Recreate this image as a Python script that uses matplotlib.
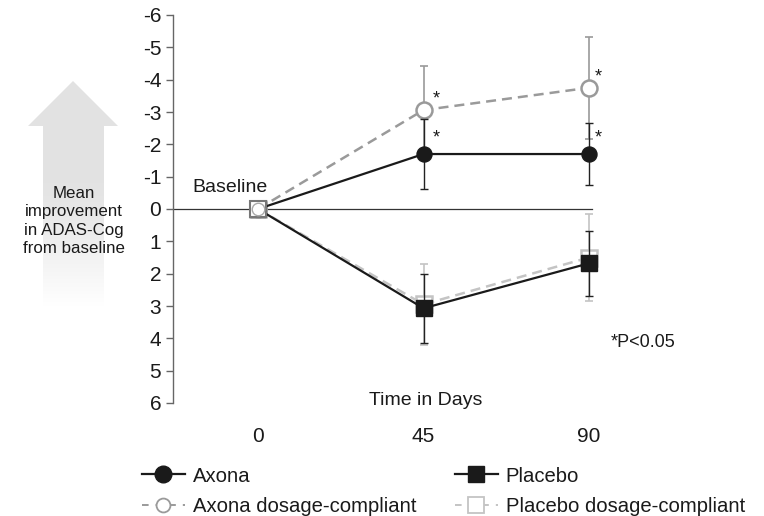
import numpy as np
import matplotlib
matplotlib.use("Agg")
import matplotlib.pyplot as plt
from matplotlib.path import Path
from matplotlib.patches import PathPatch
from matplotlib.lines import Line2D

plt.rcParams['font.family'] = ['Liberation Sans', 'DejaVu Sans']

days = [0, 45, 90]
day_labels = ["0", "45", "90"]
axona = [0.0, -1.70, -1.70]
axona_err = [0.0, 1.08, 0.95]
axona_dc = [0.0, -3.06, -3.75]
axona_dc_err = [0.0, 1.37, 1.58]
placebo = [0.0, 3.07, 1.68]
placebo_err = [0.0, 1.07, 1.00]
placebo_dc = [0.0, 2.95, 1.50]
placebo_dc_err = [0.0, 1.25, 1.33]
yticks = [-6, -5, -4, -3, -2, -1, 0, 1, 2, 3, 4, 5, 6]

W, H = 764, 516
fig = plt.figure(figsize=(W / 100, H / 100), dpi=100)

# pixel geometry
x0px, x90px = 258, 589
ppd = (x90px - x0px) / 90.0
left_px, right_px = 173, 740
top_px, bot_px = 15, 403
ax = fig.add_axes([left_px / W, 1 - bot_px / H, (right_px - left_px) / W, (bot_px - top_px) / H])
ax.set_xlim((left_px - x0px) / ppd, (right_px - x0px) / ppd)
ax.set_ylim(6, -6)
ax.patch.set_alpha(0)

for s in ['top', 'right', 'bottom']:
    ax.spines[s].set_visible(False)
ax.spines['left'].set_color('#666666')
ax.spines['left'].set_linewidth(1.0)
ax.set_yticks(yticks)
ax.set_yticklabels([str(t) for t in yticks])
ax.tick_params(axis='y', length=5, width=1.0, color='#666666', pad=3.5, labelsize=15, labelcolor='#1a1a1a')
ax.set_xticks(days)
ax.set_xticklabels(day_labels)
ax.tick_params(axis='x', length=0, pad=17, labelsize=15, labelcolor='#1a1a1a')

# zero line
ax.plot([(left_px - x0px) / ppd, (592 - x0px) / ppd], [0, 0], color='#333333', lw=0.9, zorder=1)

gray = '#9a9a9a'
lgray = '#c4c4c4'
cap = 3
dash = (0, (4, 2.4))

# placebo dosage-compliant
ax.errorbar(days[1:], placebo_dc[1:], yerr=placebo_dc_err[1:], fmt='none', ecolor=lgray, elinewidth=1.2, capsize=cap, capthick=1.2, zorder=2)
ax.plot(days, placebo_dc, color=lgray, lw=1.8, ls=dash, marker='s', ms=11.5, mfc='white', mec=lgray, mew=1.8, zorder=3)
# placebo
ax.errorbar(days[1:], placebo[1:], yerr=placebo_err[1:], fmt='none', ecolor='#222222', elinewidth=1.0, capsize=cap, capthick=1.0, zorder=4)
ax.plot(days, placebo, color='#1a1a1a', lw=1.6, marker='s', ms=11.5, mfc='#1a1a1a', mec='#1a1a1a', zorder=5)
# axona dosage-compliant
ax.errorbar(days[1:], axona_dc[1:], yerr=axona_dc_err[1:], fmt='none', ecolor=gray, elinewidth=1.2, capsize=cap, capthick=1.2, zorder=6)
ax.plot(days, axona_dc, color=gray, lw=1.8, ls=dash, marker='o', ms=11.5, mfc='white', mec=gray, mew=1.8, zorder=7)
# axona
ax.errorbar(days[1:], axona[1:], yerr=axona_err[1:], fmt='none', ecolor='#222222', elinewidth=1.0, capsize=cap, capthick=1.0, zorder=8)
ax.plot(days, axona, color='#1a1a1a', lw=1.6, marker='o', ms=10.8, mfc='#1a1a1a', mec='#1a1a1a', zorder=9)

# baseline marker overlay (square outline + white circle)
ax.plot([0], [0], marker='s', ms=11, mfc='white', mec='#777777', mew=1.5, zorder=10)
ax.plot([0], [0], marker='o', ms=9, mfc='white', mec='#aaaaaa', mew=1.0, zorder=11)

# asterisks
for xs, ys in [(48.4, -3.39), (48.4, -2.19), (92.4, -4.08), (92.4, -2.19)]:
    ax.text(xs, ys, "*", fontsize=13, ha='center', va='center', color='#1a1a1a', zorder=12)

ax.text((192 - x0px) / ppd, -0.68, "Baseline", fontsize=14, ha='left', va='center', color='#1a1a1a')
ax.text(45.5, 5.93, "Time in Days", fontsize=14, ha='center', va='center', color='#1a1a1a')
ax.text((611 - x0px) / ppd, 4.12, "*P<0.05", fontsize=13, ha='left', va='center', color='#1a1a1a')

# overlay axes in pixel coordinates for the arrow
ov = fig.add_axes([0, 0, 1, 1], zorder=-1)
ov.set_xlim(0, W)
ov.set_ylim(H, 0)
ov.axis('off')
verts = [(73, 81), (118, 126), (104, 126), (104, 306), (43, 306), (43, 126), (28, 126), (73, 81)]
path = Path(verts, [Path.MOVETO] + [Path.LINETO] * 6 + [Path.CLOSEPOLY])
patch = PathPatch(path, facecolor='none', edgecolor='none')
ov.add_patch(patch)
grad = np.linspace(0, 1, 256).reshape(-1, 1)
vals = np.where(grad < 0.45, 0.0, (grad - 0.45) / 0.55)
img = np.zeros((256, 1, 3))
c_top = np.array([0.89, 0.89, 0.89])
for i in range(3):
    img[:, 0, i] = c_top[i] + (1 - c_top[i]) * vals[:, 0] ** 1.2
im = ov.imshow(img, extent=(28, 118, 306, 81), aspect='auto', interpolation='bilinear')
im.set_clip_path(patch)
ov.text(74, 221, "Mean\nimprovement\nin ADAS-Cog\nfrom baseline", fontsize=12.2, ha='center', va='center',
        linespacing=1.3, color='#1a1a1a')

# legend
handles = [
    Line2D([], [], color='#1a1a1a', lw=1.6, marker='o', ms=12, mfc='#1a1a1a', mec='#1a1a1a'),
    Line2D([], [], color=gray, lw=1.4, ls=(0, (3.4, 3.6)), marker='o', ms=10, mfc='white', mec=gray, mew=1.3),
    Line2D([], [], color='#1a1a1a', lw=1.6, marker='s', ms=12, mfc='#1a1a1a', mec='#1a1a1a'),
    Line2D([], [], color=lgray, lw=1.4, ls=(0, (3.4, 3.6)), marker='s', ms=11, mfc='white', mec=lgray, mew=1.3),
]
labels = ["Axona", "Axona dosage-compliant", "Placebo", "Placebo dosage-compliant"]
leg = fig.legend(handles, labels, ncol=2, loc='upper left', bbox_to_anchor=(142 / W, 1 - 466.5 / H),
                 frameon=False, fontsize=14.6, handlelength=2.12, handletextpad=0.4, columnspacing=1.88,
                 labelspacing=0.55, borderaxespad=0, borderpad=0)
for t in leg.get_texts():
    t.set_color('#1a1a1a')

fig.savefig("out.png", dpi=100)
